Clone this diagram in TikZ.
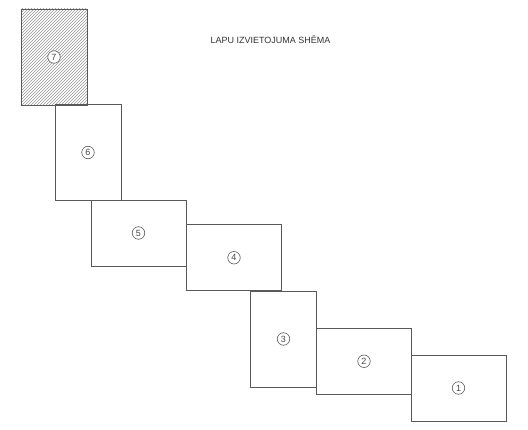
\documentclass[tikz,border=0pt]{standalone}
\usepackage{fontspec}
\setmainfont{Liberation Sans}
\usetikzlibrary{patterns}
\definecolor{ink}{gray}{0.35}
\definecolor{hatch}{gray}{0.6}
\begin{document}
\begin{tikzpicture}[x=1pt,y=-1pt,
  sheet/.style={draw=ink, line width=0.7pt, inner sep=0pt},
  portrait/.style={sheet, minimum width=66pt, minimum height=96pt},
  landscape/.style={sheet, minimum width=95pt, minimum height=66pt},
  num/.style={draw=ink, fill=white, circle, line width=0.6pt, inner sep=0pt,
    minimum size=12.5pt, font=\fontsize{9}{10}\selectfont, text=ink!80!black},
  title/.style={font=\fontsize{9}{10}\selectfont, text=black!80}]
\useasboundingbox (0,0) rectangle (528,430);
\fill[white] (0,0) rectangle (528,430);

% sheet layout, numbered from the bottom right
\node[portrait, pattern=north east lines, pattern color=hatch] (s7) at (54,57) {};
\node[portrait]  (s6) at (88,152.5) {};
\node[landscape] (s5) at (138.5,233) {};
\node[landscape] (s4) at (234,257.75) {};
\node[portrait]  (s3) at (283.5,339) {};
\node[landscape] (s2) at (364,361.25) {};
\node[landscape] (s1) at (458.5,388) {};

% sheet numbers
\node[num] (n7) at (s7) {7};
\node[num] (n6) at (s6) {6};
\node[num] (n5) at (s5) {5};
\node[num] (n4) at (s4) {4};
\node[num] (n3) at (s3) {3};
\node[num] (n2) at (s2) {2};
\node[num] (n1) at (s1) {1};

\node[title] (t) at (270.5,40) {LAPU IZVIETOJUMA SHĒMA};
\end{tikzpicture}
\end{document}
